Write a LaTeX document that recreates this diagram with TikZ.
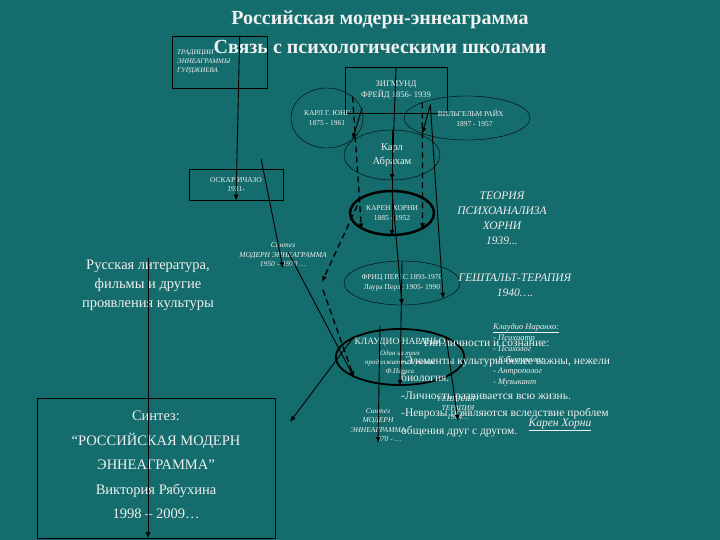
\documentclass[tikz,border=0pt]{standalone}
\usepackage{fontspec}
\setmainfont{Liberation Serif}
\usetikzlibrary{arrows.meta,shapes.geometric}
\definecolor{bg}{HTML}{156C6C}
\definecolor{tx}{HTML}{F0F0F0}
\begin{document}
\begin{tikzpicture}[x=1pt,y=-1pt,
  every node/.style={text=tx,align=center,inner sep=1pt},
  box/.style={draw=black,rectangle},
  ell/.style={draw=black,ellipse,inner sep=0pt},
  arr/.style={draw=black,-{Latex[length=6pt,width=5pt]},line width=0.9pt},
  dsh/.style={arr,dashed,dash pattern=on 6pt off 4pt,line width=1.3pt}]
\fill[bg] (0,0) rectangle (720,540);
\useasboundingbox (0,0) rectangle (720,540);
\node[font=\fontsize{20}{22}\selectfont\bfseries] (t1) at (380,20) {Российская модерн-эннеаграмма};
\node[font=\fontsize{20}{22}\selectfont\bfseries] (t2) at (380,47) {Связь с психологическими школами};
\node[box,minimum width=102,minimum height=46,font=\fontsize{8.5}{11}\selectfont] (freud) at (396,90) {ЗИГМУНД\\ФРЕЙД 1856- 1939};
\node[box,minimum width=95,minimum height=52,align=left,text width=85,anchor=south west,font=\fontsize{7}{9}\selectfont\itshape] (trad) at (172,88) {ТРАДИЦИИ\\ЭННЕАГРАММЫ\\ГУРДЖИЕВА\\[14pt]};
\node[ell,minimum width=72,minimum height=60,font=\fontsize{7.5}{10}\selectfont] (jung) at (327,118) {КАРЛ Г. ЮНГ\\1875 - 1961};
\node[ell,minimum width=126,minimum height=44,font=\fontsize{7.5}{10}\selectfont] (reich) at (467,118) {\quad ВИЛЬГЕЛЬМ РАЙХ\\\qquad 1897 - 1957};
\node[ell,minimum width=96,minimum height=50,font=\fontsize{10.5}{14}\selectfont] (abr) at (392,155) {Карл\\Абрахам};
\node[box,minimum width=94,minimum height=31,font=\fontsize{7.5}{9}\selectfont] (ich) at (236,185) {ОСКАР ИЧАЗО\\1931-};
\node[ell,line width=2.5pt,minimum width=84,minimum height=44,font=\fontsize{7.5}{10}\selectfont] (hor) at (392,213) {КАРЕН ХОРНИ\\1885 - 1952};
\node[font=\fontsize{11.5}{15}\selectfont\itshape] (theo) at (502,218) {ТЕОРИЯ\\ПСИХОАНАЛИЗА\\ХОРНИ\\1939...};
\node[font=\fontsize{7.5}{9.5}\selectfont\itshape] (sm) at (283,255) {Синтез\\МОДЕРН ЭННЕАГРАММА\\1950 – 1970 …};
\node[font=\fontsize{14.5}{19}\selectfont] (rus) at (148,285) {Русская литература,\\фильмы и другие\\проявления культуры};
\node[ell,minimum width=116,minimum height=44,font=\fontsize{7.5}{10}\selectfont] (perls) at (402,283) {ФРИЦ ПЕРЛС 1893-1970\\Лаура Перлс 1905- 1990};
\node[font=\fontsize{11.5}{15}\selectfont\itshape] (gest) at (515,285) {ГЕШТАЛЬТ-ТЕРАПИЯ\\1940….};
\node[ell,line width=1.8pt,minimum width=116,minimum height=56,font=\fontsize{7}{9}\selectfont\itshape] (nar) at (400,357) {{\upshape\fontsize{9.5}{11}\selectfont КЛАУДИО НАРАНЬО}\\[2pt]Один из трех\\продолжателей учения\\Ф.Перлса};
\node[align=left,anchor=north west,font=\fontsize{8.5}{11}\selectfont\itshape] (list) at (492,322) {\underline{Клаудио Наранхо:}\\- Психиатр\\- Психолог\\- Культуролог\\- Антрополог\\- Музыкант};
\node[font=\fontsize{7.5}{9}\selectfont\itshape] (g64) at (458,408) {ГЕШТАЛЬТ-\\ТЕРАПИЯ\\1964…};
\node[font=\fontsize{7.5}{9.5}\selectfont\itshape] (s2) at (378,425) {Синтез\\МОДЕРН\\ЭННЕАГРАММА\\\qquad\quad 970 - …};
\node[box,minimum width=238,minimum height=140] (big) at (156,468) {};
\node[font=\fontsize{14.5}{24.5}\selectfont] (bigt) at (156,465) {Синтез:\\“РОССИЙСКАЯ МОДЕРН\\ЭННЕАГРАММА”\\Виктория Рябухина\\1998 – 2009…};
\node[font=\fontsize{11.5}{14}\selectfont\itshape] (kh) at (560,425) {\underline{Карен Хорни}};
\node[align=left,anchor=south west,font=\fontsize{11.5}{17.5}\selectfont] (khl) at (400,438) {\quad\ \ -Тип личности и сознание:\\-Элементы культуры более важны, нежели\\биология.\\-Личность развивается всю жизнь.\\-Неврозы появляются вследствие проблем\\общения друг с другом.};
\coordinate (h1) at (322,282);
\coordinate (h2) at (323,290);
\coordinate (bt) at (290,422);
\coordinate (fj) at (362,108);
\coordinate (fr) at (430,106);
\draw[arr] (fj) -- (jung.south east);
\draw[arr] (fr) -- (reich.south west);
\draw[arr] (freud.north) -- (abr.south);
\draw[arr] (abr.north) -- (hor.south);
\draw[dsh] (jung.north east) -- (hor.south west);
\draw[dsh] (reich.north west) -- (hor.south east);
\draw[arr] (reich.north west) ++(8,2) -- (perls.south east);
\draw[arr] (trad.north) ++(20,0) -- (ich.south);
\draw[arr] (ich.north east) ++(-22,-10) -- (sm.south);
\draw[dsh] (hor.north west) -- (h1);
\draw[dsh] (h2) -- (nar.south west);
\draw[arr] (sm.north east) ++(-40,10) -- (nar.south west);
\draw[arr] (hor.north) -- (perls.south);
\draw[arr] (perls.north) -- (nar.south);
\draw[arr] (nar.north west) -- (bt);
\draw[arr] (nar.north) ++(-20,-2) -- (s2.south);
\draw[arr] (nar.north east) -- (g64.south);
\draw[arr] (rus.north) -- (big.south -| rus.north);
\end{tikzpicture}
\end{document}
